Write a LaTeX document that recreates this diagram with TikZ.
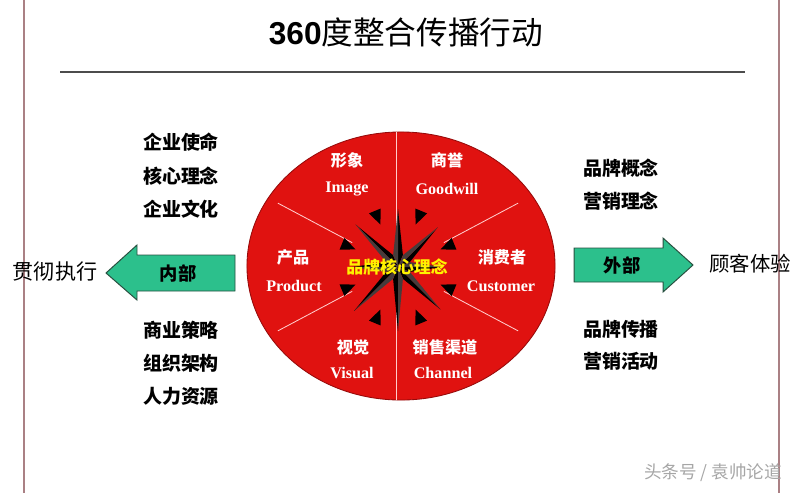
\documentclass[tikz,border=0pt]{standalone}
\usepackage{fontspec}
\setmainfont{Liberation Serif}
\newfontfamily\cjk{Noto Sans CJK SC}
\newfontfamily\headfont{Liberation Sans}
\usepackage{tikz}
\usetikzlibrary{shapes.geometric}
\definecolor{wheelred}{RGB}{224,18,16}
\definecolor{wheeledge}{RGB}{150,10,10}
\definecolor{arrowgreen}{RGB}{44,192,140}
\definecolor{arrowedge}{RGB}{40,80,64}
\definecolor{framebrown}{RGB}{170,128,132}
\definecolor{spikegray}{RGB}{70,60,60}

\begin{document}
\begin{tikzpicture}[
    x=0.025cm, y=-0.025cm, % one unit = one pixel of the reference
    seglabel/.style={text=white, inner sep=0pt,
        font=\cjk\bfseries\fontsize{11.5}{13}\selectfont}, % Chinese text on the wheel
    segeng/.style={text=white, inner sep=0pt,
        font=\bfseries\fontsize{11.5}{13}\selectfont}, % English text on the wheel
    sidetext/.style={inner sep=0pt,
        font=\cjk\bfseries\fontsize{13.5}{15}\selectfont}, % the lists left and right
    blockarrow/.style={draw=arrowedge, fill=arrowgreen, line width=0.7pt},
    divider/.style={draw=white!80!red, line width=0.6pt},
    frameline/.style={draw=framebrown, line width=1pt},
]
\useasboundingbox (0,0) rectangle (800,493);

% frame and title
\draw[frameline] (24,0) -- (24,493);
\draw[frameline] (779,0) -- (779,493);
\node[inner sep=0pt, font=\cjk\fontsize{22.5}{26}\selectfont] (title) at (406,32)
    {{\headfont\bfseries 360}度整合传播行动};
\draw[draw=black!70, line width=1.1pt] (60,72) -- (745,72);

% the wheel
\node[ellipse, draw=wheeledge, fill=wheelred, line width=0.6pt,
    minimum width=7.7cm, minimum height=6.7cm, inner sep=0pt, outer sep=0pt]
    (wheel) at (401,266) {};
\draw[divider] (396,132) -- (396,400);
\begin{scope}[shift={(398,267)}]
    \foreach \a in {28,152,208,332}
        \draw[divider] (\a:52) -- (\a:136);
    % compass star
    \foreach \a/\l in {0/44,45/60,90/64,135/62,180/46,225/60,270/58,315/56} {
        \fill[black] (0,0) -- (\a+22:13) -- (\a:\l) -- cycle;
        \fill[spikegray] (0,0) -- (\a:\l) -- (\a-22:13) -- cycle;
    }
    \foreach \a in {22.5,67.5,...,337.5}
        \fill[black] (\a:46) -- (\a+6:61) -- (\a-6:61) -- cycle;
\end{scope}
\node[text=yellow, inner sep=0pt, font=\cjk\bfseries\fontsize{12}{14}\selectfont]
    (core) at (397,267) {品牌核心理念};

% six sectors
\node[seglabel] (image) at (347,160) {形象};
\node[segeng] (imageen) at (347,189) {Image};
\node[seglabel] (goodwill) at (447,160) {商誉};
\node[segeng] (goodwillen) at (447,189) {Goodwill};
\node[seglabel] (product) at (293,257) {产品};
\node[segeng] (producten) at (294,286) {Product};
\node[seglabel] (customer) at (502,257) {消费者};
\node[segeng] (customeren) at (501,286) {Customer};
\node[seglabel] (visual) at (353,347) {视觉};
\node[segeng] (visualen) at (352,373) {Visual};
\node[seglabel] (channel) at (445,347) {销售渠道};
\node[segeng] (channelen) at (443,373) {Channel};

% left side
\node[sidetext] (mission) at (181,142) {企业使命};
\node[sidetext] (coreidea) at (181,176) {核心理念};
\node[sidetext] (culture) at (181,209) {企业文化};
\node[sidetext] (strategy) at (181,330) {商业策略};
\node[sidetext] (structure) at (181,363) {组织架构};
\node[sidetext] (resources) at (181,396) {人力资源};
\draw[blockarrow] (235,255) -- (137,255) -- (137,245) -- (106,273)
    -- (137,300) -- (137,291) -- (235,291) -- cycle;
\node[sidetext, font=\cjk\bfseries\fontsize{13}{15}\selectfont] (inner) at (178,273) {内部};
\node[sidetext, font=\cjk\fontsize{15}{17}\selectfont] (execute) at (55,272) {贯彻执行};

% right side
\node[sidetext] (brandidea) at (621,168) {品牌概念};
\node[sidetext] (mktidea) at (621,201) {营销理念};
\node[sidetext] (brandcomm) at (621,329) {品牌传播};
\node[sidetext] (mktevent) at (621,361) {营销活动};
\draw[blockarrow] (574,248) -- (663,248) -- (663,238) -- (693,265)
    -- (663,292) -- (663,282) -- (574,282) -- cycle;
\node[sidetext, font=\cjk\bfseries\fontsize{13}{15}\selectfont] (outer) at (622,265) {外部};
\node[sidetext, font=\cjk\fontsize{14.5}{16}\selectfont] (experience) at (750,264) {顾客体验};

% watermark
\node[text=black!35, inner sep=0pt, font=\cjk\fontsize{12.5}{14}\selectfont]
    (mark) at (713,473) {头条号 / 袁帅论道};
\end{tikzpicture}
\end{document}
